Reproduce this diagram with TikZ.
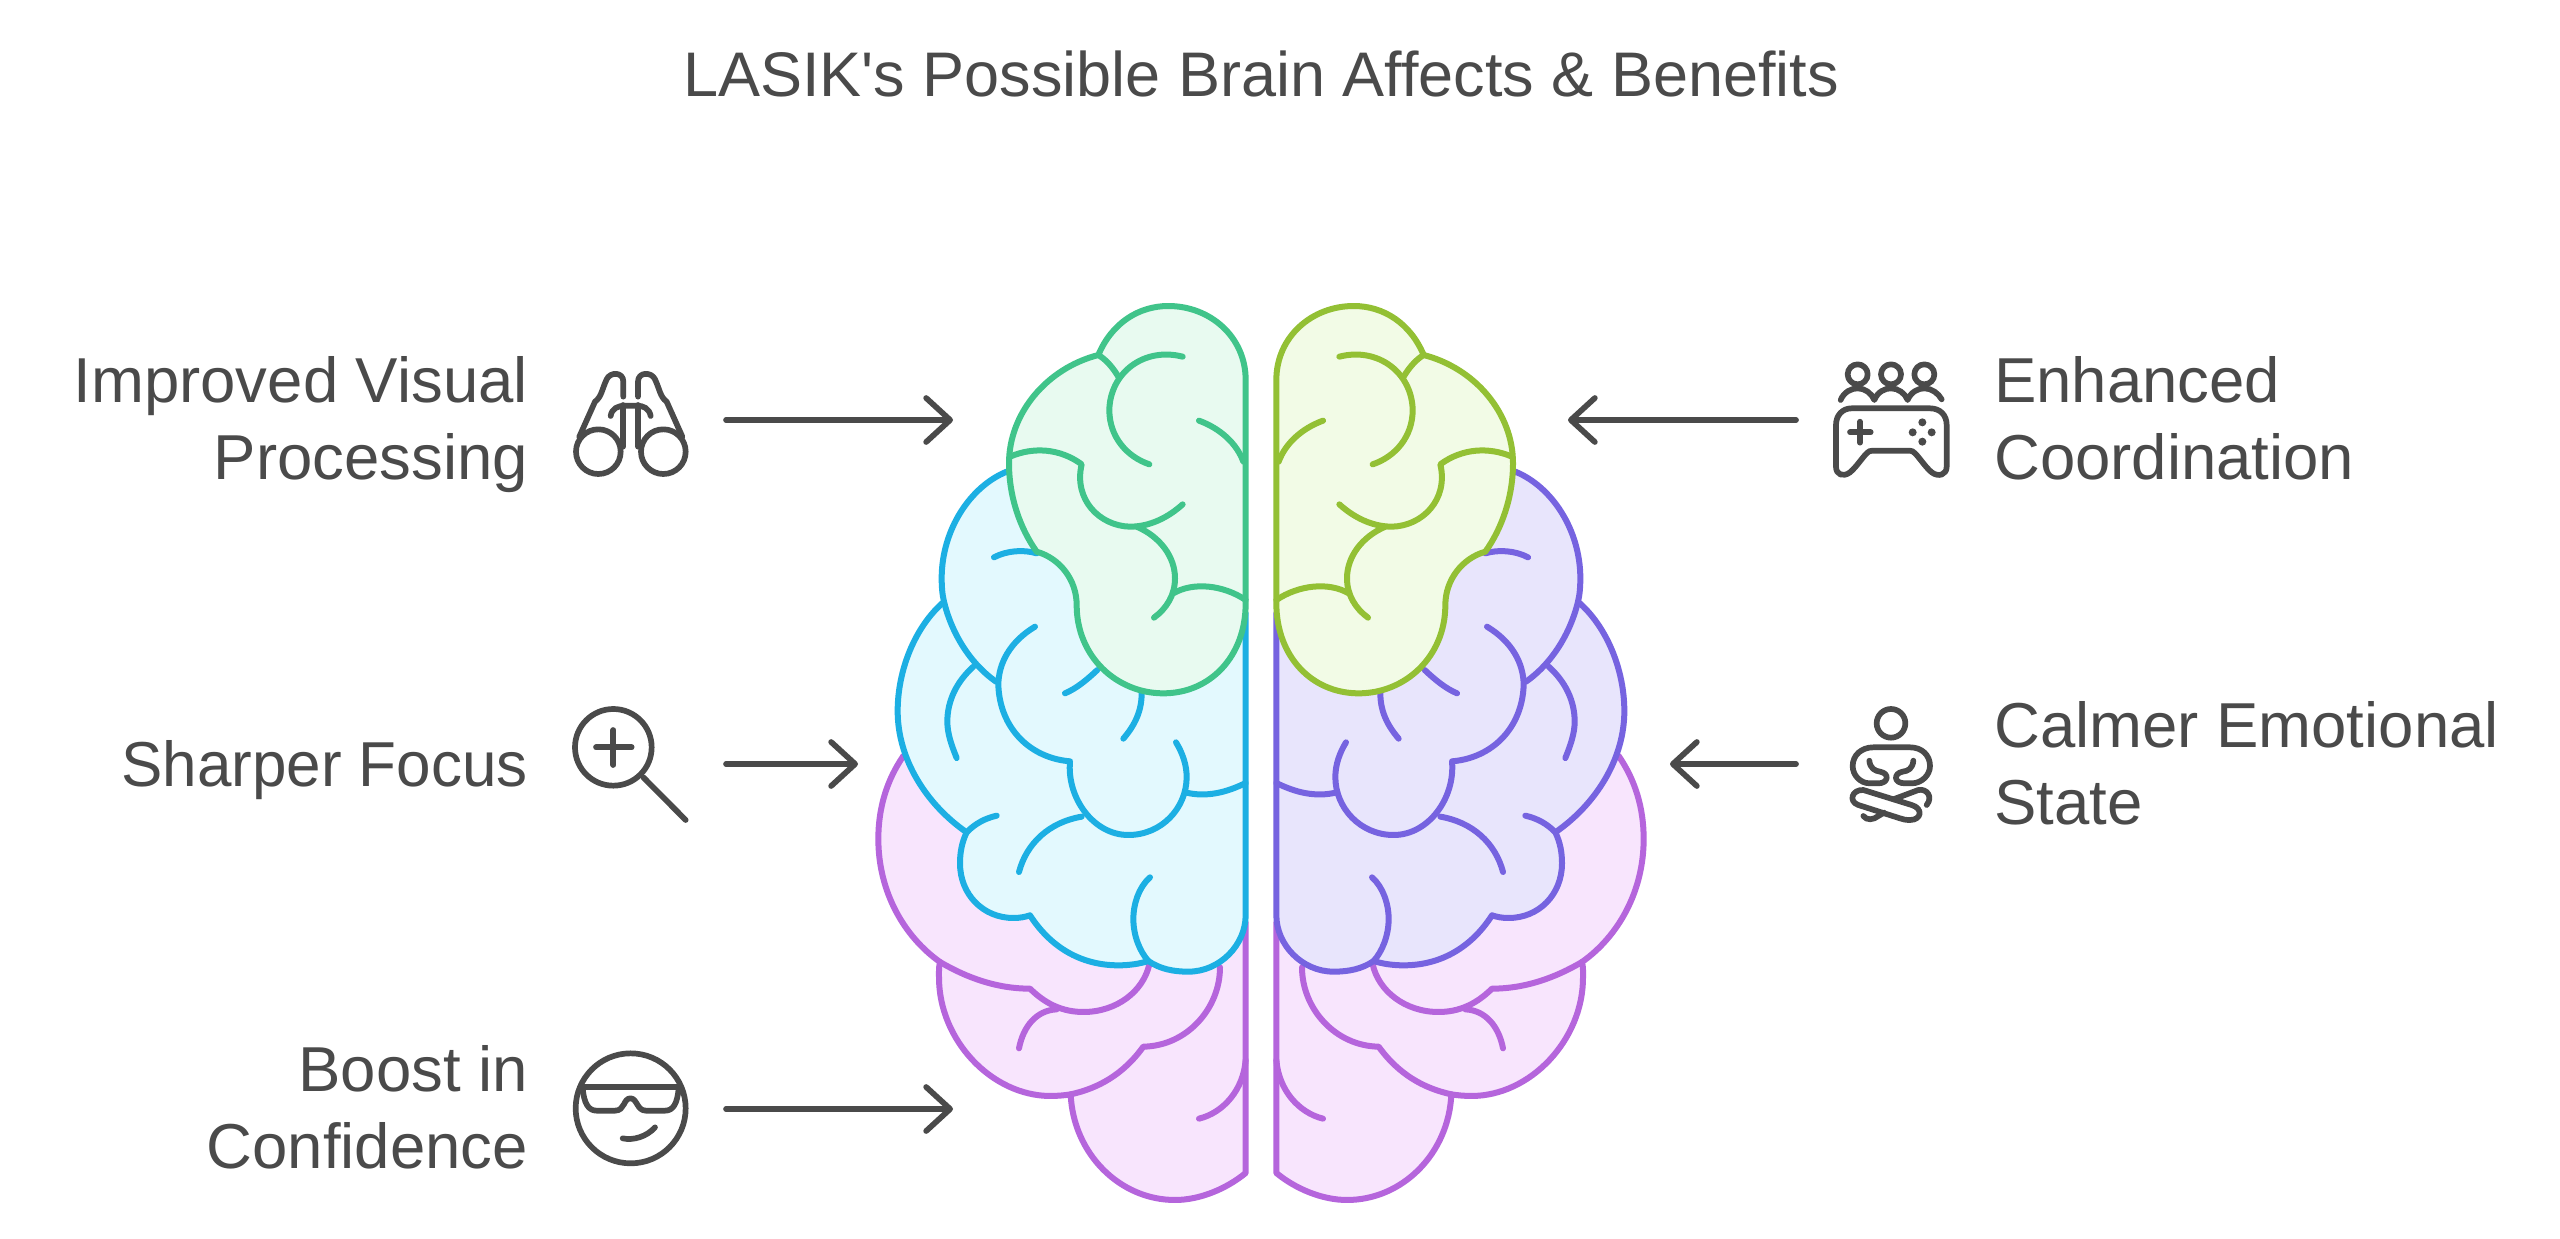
\documentclass[tikz,border=0pt]{standalone}
\usepackage{fontspec}
\setmainfont{Liberation Sans}
\usetikzlibrary{arrows.meta}
\definecolor{inkgray}{HTML}{4A4A4A}
\definecolor{purpleS}{HTML}{B565DC}
\definecolor{purpleF}{HTML}{F8E5FD}
\definecolor{blueS}{HTML}{1CAFE3}
\definecolor{blueF}{HTML}{E3F9FE}
\definecolor{greenS}{HTML}{40C48A}
\definecolor{greenF}{HTML}{E8FAF0}
\definecolor{limeS}{HTML}{93C034}
\definecolor{limeF}{HTML}{F2FBE6}
\definecolor{violetS}{HTML}{7663E0}
\definecolor{violetF}{HTML}{E8E5FC}
\tikzset{
  lobe/.style={line width=6pt,line join=round,line cap=round},
  iconline/.style={draw=inkgray,line width=5.7pt,line cap=round,line join=round},
  pointer/.style={draw=inkgray,line width=5.7pt,line cap=round,-{Straight Barb[length=24pt,width=44pt,round]}},
  labelR/.style={text=inkgray,anchor=base east,align=right,inner sep=0pt,font=\fontsize{63.5}{77}\selectfont},
  labelL/.style={text=inkgray,anchor=base west,align=left,inner sep=0pt,font=\fontsize{63.5}{77}\selectfont},
  zoomed/.style={shift={#1},scale=1/3},
}
\newcommand{\brainhalf}[4]{%
  % purple lobe
  \draw[lobe,draw=purpleS,fill=purpleF]
    (130,1428) .. controls (80,1501) and (55,1584) .. (55,1677)
    .. controls (55,1833) and (130,1968) .. (240,2046)
    .. controls (236,2062) and (237,2078) .. (237,2093)
    .. controls (237,2280) and (395,2448) .. (572,2448)
    .. controls (590,2448) and (615,2446) .. (632,2443)
    .. controls (640,2622) and (780,2760) .. (945,2760)
    .. controls (1020,2760) and (1100,2726) .. (1157,2679)
    -- (1157,1927) -- cycle;
  \draw[lobe,draw=purpleS]
    (240,2046) .. controls (320,2093) and (410,2126) .. (510,2126)
    .. controls (540,2155) and (590,2196) .. (670,2196)
    .. controls (770,2196) and (850,2134) .. (868,2053);
  \draw[lobe,draw=purpleS] (590,2188) .. controls (530,2191) and (490,2238) .. (477,2305);
  \draw[lobe,draw=purpleS] (1080,2062) .. controls (1080,2186) and (980,2298) .. (850,2300)
    .. controls (790,2383) and (715,2425) .. (632,2443);
  \draw[lobe,draw=purpleS] (1157,2340) .. controls (1150,2430) and (1090,2498) .. (1017,2516);
  % blue lobe
  \draw[lobe,draw=#1,fill=#2]
    (440,575) .. controls (330,620) and (245,750) .. (245,895)
    .. controls (245,920) and (247,945) .. (252,965)
    .. controls (165,1040) and (113,1170) .. (113,1293)
    .. controls (113,1439) and (200,1574) .. (320,1657)
    .. controls (305,1688) and (300,1719) .. (300,1750)
    .. controls (300,1844) and (370,1914) .. (460,1914)
    .. controls (480,1914) and (495,1911) .. (510,1906)
    .. controls (570,1999) and (660,2056) .. (775,2056)
    .. controls (810,2056) and (840,2051) .. (865,2043)
    .. controls (900,2067) and (940,2075) .. (985,2075)
    .. controls (1080,2075) and (1157,1994) .. (1157,1906)
    -- (1157,1000) -- (900,700) -- cycle;
  \draw[lobe,draw=#1] (252,965) .. controls (275,1060) and (330,1150) .. (408,1205);
  \draw[lobe,draw=#1] (402,832) .. controls (440,812) and (490,808) .. (530,820);
  \draw[lobe,draw=#1] (525,1040) .. controls (450,1085) and (415,1150) .. (415,1216)
    .. controls (420,1345) and (510,1434) .. (630,1444)
    .. controls (620,1553) and (700,1665) .. (805,1665)
    .. controls (905,1665) and (980,1584) .. (980,1491)
    .. controls (980,1454) and (967,1418) .. (948,1387);
  \draw[lobe,draw=#1] (975,1537) .. controls (1040,1553) and (1100,1537) .. (1157,1509);
  \draw[lobe,draw=#1] (665,1610) .. controls (570,1626) and (500,1688) .. (477,1776);
  \draw[lobe,draw=#1] (320,1657) .. controls (345,1631) and (375,1615) .. (410,1607);
  \draw[lobe,draw=#1] (340,1160) .. controls (290,1205) and (262,1262) .. (262,1325)
    .. controls (262,1361) and (275,1397) .. (290,1434);
  \draw[lobe,draw=#1] (845,1240) .. controls (845,1293) and (825,1335) .. (790,1376);
  \draw[lobe,draw=#1] (712,1170) .. controls (680,1200) and (650,1225) .. (615,1240);
  \draw[lobe,draw=#1] (870,1792) .. controls (835,1823) and (820,1875) .. (820,1916)
    .. controls (820,1968) and (840,2015) .. (865,2043);
  % green lobe
  \draw[lobe,draw=#3,fill=#4]
    (1157,300) .. controls (1157,170) and (1050,78) .. (925,78)
    .. controls (835,78) and (755,130) .. (715,225)
    .. controls (560,265) and (447,400) .. (447,550)
    .. controls (447,650) and (480,745) .. (530,815)
    .. controls (600,835) and (650,900) .. (650,975)
    .. controls (650,1130) and (770,1240) .. (910,1240)
    .. controls (1050,1240) and (1157,1130) .. (1157,970)
    -- cycle;
  \draw[lobe,draw=#3] (715,225) .. controls (740,240) and (760,265) .. (775,290);
  \draw[lobe,draw=#3] (968,230) .. controls (850,200) and (750,280) .. (748,390)
    .. controls (748,470) and (800,530) .. (868,553);
  \draw[lobe,draw=#3] (1017,422) .. controls (1080,445) and (1130,490) .. (1150,545);
  \draw[lobe,draw=#3] (450,530) .. controls (520,500) and (600,505) .. (665,553)
    .. controls (640,660) and (720,738) .. (810,740)
    .. controls (870,740) and (925,712) .. (968,673);
  \draw[lobe,draw=#3] (830,740) .. controls (900,770) and (945,830) .. (945,895)
    .. controls (945,945) and (920,985) .. (882,1013);
  \draw[lobe,draw=#3] (940,940) .. controls (1000,905) and (1090,915) .. (1157,960);
}
\begin{document}
\begin{tikzpicture}[x=1pt,y=-1pt]
\useasboundingbox (0,0) rectangle (2560,1239);
\fill[white] (0,0) rectangle (2560,1239);

\node[text=inkgray,inner sep=0pt,font=\fontsize{63}{70}\selectfont] (title) at (1261,74) {LASIK\textquotesingle s Possible Brain Affects \& Benefits};

% brain
\begin{scope}[shift={(860,280)},scale=1/3]
  \brainhalf{blueS}{blueF}{greenS}{greenF}
\end{scope}
\begin{scope}[shift={(1662,280)},xscale=-1/3,yscale=1/3]
  \brainhalf{violetS}{violetF}{limeS}{limeF}
\end{scope}

% labels (anchored on the baseline of the last line)
\node[labelR] (labA) at (528,479) {Improved Visual\\Processing};
\node[labelR,xscale=0.976] (labB) at (528,786) {Sharper Focus};
\node[labelR] (labC) at (528,1168) {Boost in\\Confidence};
\node[labelL] (labD) at (1994,479) {Enhanced\\Coordination};
\node[labelL] (labE) at (1994,824) {Calmer Emotional\\State};

% binoculars
\begin{scope}[zoomed={(560,340)}]
  \draw[iconline] (115,335) circle (67);
  \draw[iconline] (310,335) circle (67);
  \draw[iconline] (58,290) -- (105,185) .. controls (125,170) and (125,150) .. (140,118)
    .. controls (150,95) and (190,95) .. (190,125) -- (190,170);
  \draw[iconline] (367,290) -- (320,185) .. controls (300,170) and (300,150) .. (285,118)
    .. controls (275,95) and (234,95) .. (234,125) -- (234,170);
  \draw[iconline] (189,195) -- (189,320);
  \draw[iconline] (235,195) -- (235,320);
  \draw[iconline] (152,228) .. controls (155,205) and (175,197) .. (195,197) -- (230,197)
    .. controls (250,197) and (268,205) .. (272,228);
\end{scope}
% magnifier
\begin{scope}[zoomed={(560,690)}]
  \draw[iconline] (160,172) circle (115);
  \draw[iconline] (108,172) -- (215,172);
  \draw[iconline] (160,120) -- (160,225);
  \draw[iconline] (250,262) -- (377,390);
\end{scope}
% sunglasses face
\begin{scope}[zoomed={(560,1030)}]
  \draw[iconline] (212,235) circle (165);
  \draw[iconline] (65,170) -- (355,170);
  \draw[iconline] (68,175) .. controls (72,220) and (85,242) .. (110,242) -- (165,242)
    .. controls (195,242) and (190,205) .. (211,205)
    .. controls (232,205) and (230,242) .. (258,242) -- (315,242)
    .. controls (340,242) and (352,220) .. (356,175);
  \draw[iconline] (188,325) .. controls (220,332) and (260,320) .. (285,292);
\end{scope}
% controller
\begin{scope}[zoomed={(1810,340)}]
  \draw[iconline] (143,103) circle (30);
  \draw[iconline] (243,103) circle (30);
  \draw[iconline] (343,103) circle (30);
  \draw[iconline] (92,180) .. controls (102,155) and (125,145) .. (143,145)
    .. controls (165,145) and (185,160) .. (193,180)
    .. controls (203,155) and (225,145) .. (243,145)
    .. controls (265,145) and (285,160) .. (293,180)
    .. controls (303,155) and (325,145) .. (343,145)
    .. controls (365,145) and (385,160) .. (395,178);
  \draw[iconline] (125,205) -- (360,205) .. controls (390,205) and (410,225) .. (410,255)
    -- (410,380) .. controls (410,405) and (385,412) .. (365,397)
    .. controls (345,380) and (330,355) .. (315,340)
    .. controls (310,334) and (305,332) .. (298,332) -- (188,332)
    .. controls (180,332) and (175,334) .. (170,340)
    .. controls (155,355) and (140,380) .. (120,397)
    .. controls (100,412) and (78,405) .. (78,380) -- (78,255)
    .. controls (78,225) and (98,205) .. (125,205) -- cycle;
  \draw[iconline] (120,277) -- (182,277);
  \draw[iconline] (150,245) -- (150,308);
  \fill[inkgray] (337,247) circle (12) (308,277) circle (12) (365,277) circle (12) (337,305) circle (12);
\end{scope}
% meditation
\begin{scope}[zoomed={(1810,690)}]
  \draw[iconline] (243,100) circle (43);
  \draw[iconline] (178,212) .. controls (180,235) and (195,243) .. (210,245)
    .. controls (240,250) and (235,280) .. (205,280) -- (180,280)
    .. controls (150,280) and (128,255) .. (128,228)
    .. controls (128,195) and (155,172) .. (190,172) -- (300,172)
    .. controls (335,172) and (360,195) .. (360,228)
    .. controls (360,255) and (335,280) .. (305,280) -- (285,280)
    .. controls (250,280) and (250,250) .. (278,245)
    .. controls (295,243) and (308,235) .. (310,212);
  \draw[iconline] (160,300) -- (305,345) .. controls (340,355) and (335,390) .. (300,390)
    .. controls (285,390) and (280,388) .. (270,385) -- (145,345)
    .. controls (115,335) and (125,298) .. (160,300) -- cycle;
  \draw[iconline] (350,345) .. controls (370,320) and (350,295) .. (325,300) -- (250,328);
  \draw[iconline] (222,368) -- (205,378) .. controls (190,390) and (170,392) .. (160,378);
\end{scope}

% arrows
\coordinate (tailA) at (726,420);   \coordinate (tipA) at (953,420);
\coordinate (tailB) at (726,764);   \coordinate (tipB) at (858,764);
\coordinate (tailC) at (726,1109);  \coordinate (tipC) at (953,1109);
\coordinate (tailD) at (1796,420);  \coordinate (tipD) at (1568,420);
\coordinate (tailE) at (1796,764);  \coordinate (tipE) at (1670,764);
\draw[pointer] (tailA) -- (tipA);
\draw[pointer] (tailB) -- (tipB);
\draw[pointer] (tailC) -- (tipC);
\draw[pointer] (tailD) -- (tipD);
\draw[pointer] (tailE) -- (tipE);
\end{tikzpicture}
\end{document}
